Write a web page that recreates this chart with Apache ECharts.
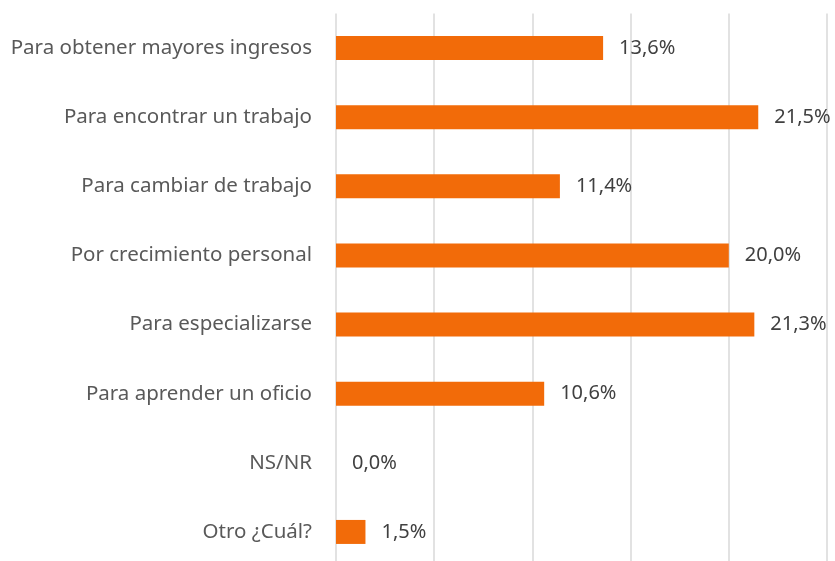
<!DOCTYPE html>
<html>
<head>
<meta charset="utf-8">
<script src="https://cdn.jsdelivr.net/npm/echarts@6/dist/echarts.min.js"></script>
<style>
  html, body { margin: 0; padding: 0; background: #fff; overflow: hidden; }
  /* the plot runs a little past the bottom edge, as in the original */
  #chart { width: 835px; height: 575px; }
</style>
</head>
<body>
<div id="chart"></div>
<script>
// motivos (orden de arriba a abajo)
const categories = [
  'Para obtener mayores ingresos',
  'Para encontrar un trabajo',
  'Para cambiar de trabajo',
  'Por crecimiento personal',
  'Para especializarse',
  'Para aprender un oficio',
  'NS/NR',
  'Otro ¿Cuál?'
];
const values = [13.6, 21.5, 11.4, 20.0, 21.3, 10.6, 0.0, 1.5];

const chart = echarts.init(document.getElementById('chart'));

chart.setOption({
  animation: false,
  backgroundColor: '#ffffff',
  grid: {
    left: 336,
    right: 8,
    top: 13.5,
    bottom: 8.5,
    containLabel: false
  },
  xAxis: {
    type: 'value',
    min: 0,
    max: 25,
    interval: 5,
    axisLabel: { show: false },
    axisLine: { show: false },
    axisTick: { show: false },
    splitLine: { lineStyle: { color: '#d9d9d9', width: 1.5 } }
  },
  yAxis: {
    type: 'category',
    inverse: true,
    data: categories,
    axisLine: { show: false },
    axisTick: { show: false },
    axisLabel: {
      color: '#595959',
      fontSize: 20.5,
      fontFamily: 'Noto Sans',
      margin: 24
    }
  },
  series: [
    {
      type: 'bar',
      data: values,
      barWidth: 24,
      itemStyle: { color: '#f26b09' },
      label: {
        show: true,
        position: 'right',
        distance: 16,
        color: '#404040',
        fontSize: 20,
        fontFamily: 'Noto Sans',
        formatter: p => p.value.toFixed(1).replace('.', ',') + '%'
      }
    }
  ]
});
</script>
</body>
</html>
